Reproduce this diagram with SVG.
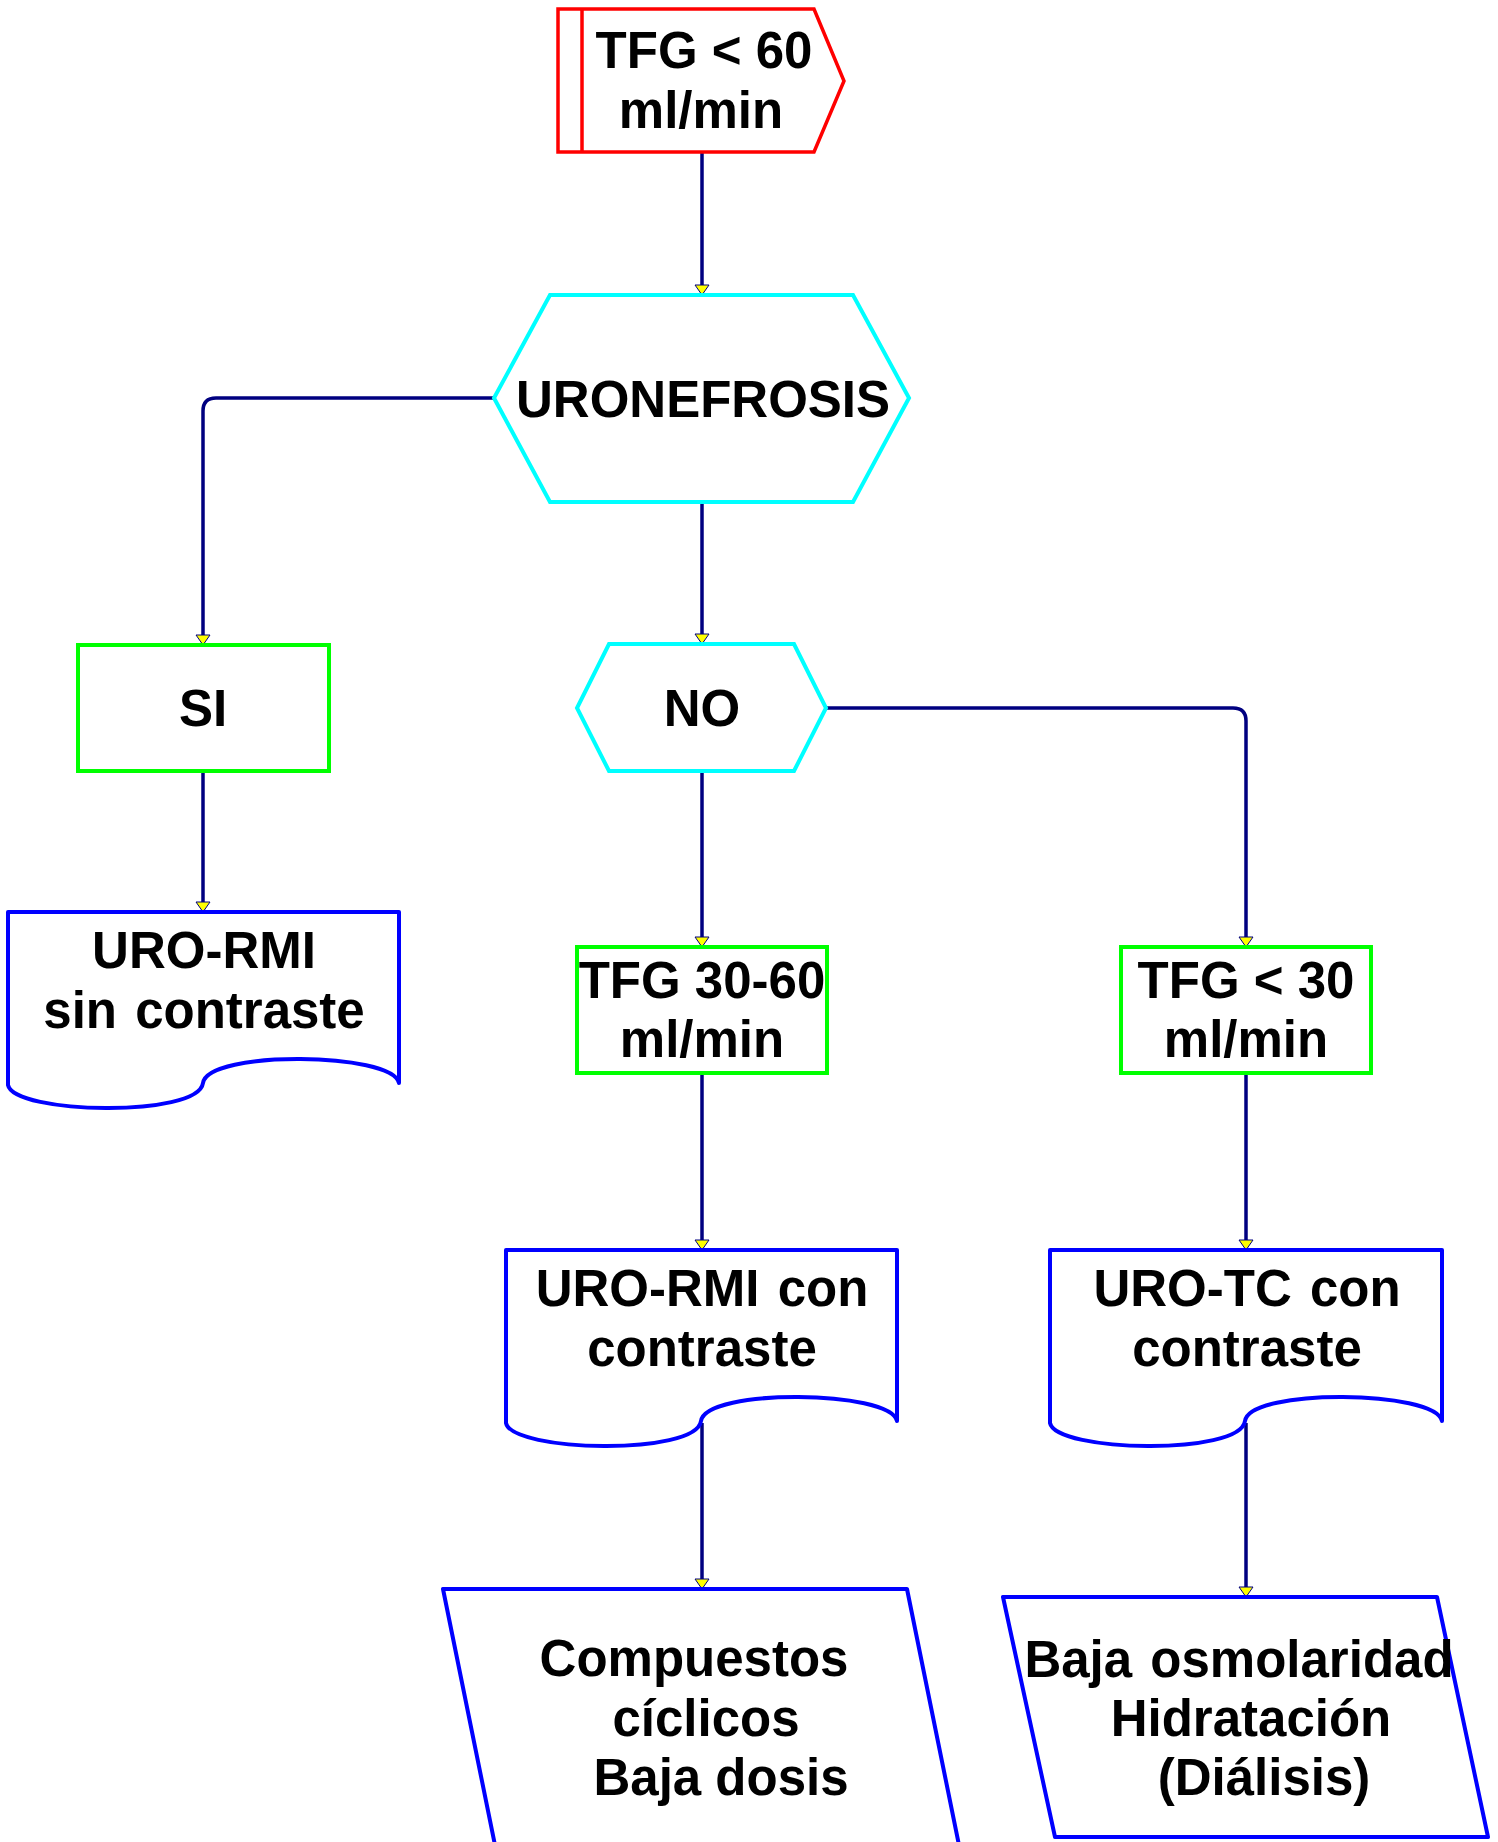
<svg xmlns="http://www.w3.org/2000/svg" width="1498" height="1842" viewBox="0 0 1498 1842">
<style>
text{font-family:"Liberation Sans",Arial,sans-serif;font-weight:bold;font-size:51px;fill:#000;text-anchor:middle}
.red{fill:#fff;stroke:#ff0000;stroke-width:3.5}
.cyan{fill:#fff;stroke:#00ffff;stroke-width:4}
.green{fill:#fff;stroke:#00ff00;stroke-width:4}
.blue{fill:#fff;stroke:#0000ff;stroke-width:4;stroke-linejoin:round}
.conn{fill:none;stroke:#000080;stroke-width:3.5}
</style>
<defs>
<marker id="arr" markerUnits="userSpaceOnUse" viewBox="-1 -8 12 16" refX="10" refY="0" markerWidth="12" markerHeight="16" orient="auto">
<path d="M0,-7 L10,0 L0,7 Z" fill="#ffff00" stroke="#000080" stroke-width="1"/>
</marker>
</defs>
<rect width="1498" height="1842" fill="#fff"/>
<g id="connectors">
<path class="conn" d="M702,152 L702,295" marker-end="url(#arr)"/>
<path class="conn" d="M494,398 L216,398 Q203,398 203,411 L203,645" marker-end="url(#arr)"/>
<path class="conn" d="M702,502 L702,644" marker-end="url(#arr)"/>
<path class="conn" d="M203,771 L203,912" marker-end="url(#arr)"/>
<path class="conn" d="M702,771 L702,947" marker-end="url(#arr)"/>
<path class="conn" d="M826,708 L1233,708 Q1246,708 1246,721 L1246,947" marker-end="url(#arr)"/>
<path class="conn" d="M702,1073 L702,1250" marker-end="url(#arr)"/>
<path class="conn" d="M1246,1073 L1246,1250" marker-end="url(#arr)"/>
<path class="conn" d="M702,1423 L702,1589" marker-end="url(#arr)"/>
<path class="conn" d="M1246,1423 L1246,1597" marker-end="url(#arr)"/>
</g>
<g id="n_tfg60">
<path class="red" d="M558,9 L814,9 L844,81 L814,152 L558,152 Z M582,9 L582,152"/>
<text x="704" y="68">TFG &lt; 60</text>
<text x="701" y="128">ml/min</text>
</g>
<g id="n_uronefrosis">
<path class="cyan" d="M550,295 L853,295 L909,398 L853,502 L550,502 L494,398 Z"/>
<text x="703" y="417">URONEFROSIS</text>
</g>
<g id="n_si">
<rect class="green" x="78" y="645" width="251" height="126"/>
<text x="203" y="726">SI</text>
</g>
<g id="n_no">
<path class="cyan" d="M609,644 L794,644 L826,708 L794,771 L609,771 L577,708 Z"/>
<text x="702" y="726">NO</text>
</g>
<g id="n_uro_rmi_sin">
<path class="blue" d="M8,912 L399,912 L399,1083 C392,1052 208,1050 203,1083 C198,1118 14,1114 8,1085 Z"/>
<text x="204" y="968">URO-RMI</text>
<text x="204" y="1028" word-spacing="4">sin contraste</text>
</g>
<g id="n_tfg3060">
<rect class="green" x="577" y="947" width="250" height="126"/>
<text x="702" y="998">TFG 30-60</text>
<text x="702" y="1057">ml/min</text>
</g>
<g id="n_tfg30">
<rect class="green" x="1121" y="947" width="250" height="126"/>
<text x="1246" y="998">TFG &lt; 30</text>
<text x="1246" y="1057">ml/min</text>
</g>
<g id="n_uro_rmi_con">
<path class="blue" d="M506,1250 L897,1250 L897,1421 C890,1390 706,1388 701,1421 C696,1456 512,1452 506,1423 Z"/>
<text x="702" y="1306" word-spacing="4">URO-RMI con</text>
<text x="702" y="1366">contraste</text>
</g>
<g id="n_uro_tc_con">
<path class="blue" d="M1050,1250 L1442,1250 L1442,1421 C1435,1390 1250,1388 1245,1421 C1240,1456 1056,1452 1050,1423 Z"/>
<text x="1247" y="1306" word-spacing="4">URO-TC con</text>
<text x="1247" y="1366">contraste</text>
</g>
<g id="n_compuestos">
<path class="blue" d="M443,1589 L907,1589 L962,1860 L498,1860 Z"/>
<text x="694" y="1676">Compuestos</text>
<text x="706" y="1736">cíclicos</text>
<text x="721" y="1795">Baja dosis</text>
</g>
<g id="n_baja_osm">
<path class="blue" d="M1003,1597 L1437,1597 L1488,1837 L1055,1837 Z"/>
<text x="1239" y="1677" word-spacing="4">Baja osmolaridad</text>
<text x="1251" y="1736">Hidratación</text>
<text x="1264" y="1795">(Diálisis)</text>
</g>
</svg>
